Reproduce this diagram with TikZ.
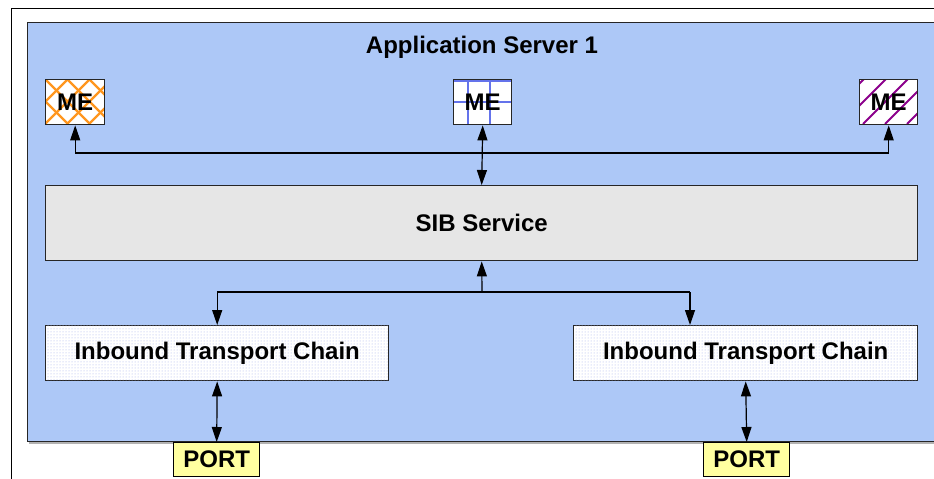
\documentclass[tikz,border=0pt]{standalone}
\usepackage{fontspec}
\setmainfont{Liberation Sans}
\usetikzlibrary{arrows.meta,patterns}
\definecolor{serverblue}{RGB}{173,200,247}
\definecolor{sibgray}{RGB}{230,230,230}
\definecolor{portyellow}{RGB}{255,255,160}
\definecolor{meorange}{RGB}{255,150,30}
\definecolor{meblue}{RGB}{100,115,235}
\definecolor{mepurple}{RGB}{140,0,140}
\definecolor{dotblue}{RGB}{160,175,235}
\begin{document}
\begin{tikzpicture}[x=1pt,y=-1pt,
  lbl/.style={font=\fontsize{24}{28}\selectfont\bfseries},
  box/.style={draw=black!85,line width=1.4pt,inner sep=0pt,anchor=north west,lbl},
  conn/.style={line width=1.2pt,draw=black},
  tip/.style={-{Triangle[length=15pt,width=10pt]}},
  dtip/.style={{Triangle[length=15pt,width=10pt]}-{Triangle[length=15pt,width=10pt]}}]
\useasboundingbox (0,0) rectangle (934,479);
\fill[white] (0,0) rectangle (934,479);
% outer frame
\draw[line width=1pt] (11,479) -- (11,8) -- (940,8);
% server box with shadow
\fill[black!30] (29,24) rectangle (950,443.5);
\node[box, fill=serverblue, minimum width=930pt, minimum height=419pt] (server) at (27,22) {};
\node[lbl] (title) at (482,47) {Application Server 1};
% ME 1 (orange crosshatch)
\fill[white] (45,79) rectangle (104,124);
\begin{scope}
  \clip (45,79) rectangle (104,124);
  \foreach \i in {-66,-44,...,66} {
    \draw[meorange,line width=2.4pt] (45+\i,79) -- ++(45,45);
    \draw[meorange,line width=2.4pt] (45+\i,124) -- ++(45,-45);
  }
\end{scope}
\node[box, minimum width=59pt, minimum height=45pt] (me1) at (45,79) {ME};
% ME 2 (blue grid)
\fill[white] (453,79) rectangle (511,124);
\begin{scope}
  \clip (453,79) rectangle (511,124);
  \draw[meblue,line width=1.6pt] (453,81) -- (511,81) (453,102) -- (511,102)
    (468,79) -- (468,124) (490,79) -- (490,124);
\end{scope}
\node[box, minimum width=58pt, minimum height=45pt] (me2) at (453,79) {ME};
% ME 3 (purple diagonal stripes)
\fill[white] (859,79) rectangle (917,124);
\begin{scope}
  \clip (859,79) rectangle (917,124);
  \foreach \i in {-40,-18,...,90} {
    \draw[mepurple,line width=1.8pt] (859+\i,124) -- ++(45,-45);
  }
\end{scope}
\node[box, minimum width=58pt, minimum height=45pt] (me3) at (859,79) {ME};
% SIB service
\node[box, fill=sibgray, minimum width=872pt, minimum height=75pt] (sib) at (45,185) {SIB Service};
% Inbound transport chains
\node[box, fill=white, postaction={pattern=dots, pattern color=dotblue},
  minimum width=343pt, minimum height=55pt] (itc1) at (45,325) {Inbound Transport Chain};
\node[box, fill=white, postaction={pattern=dots, pattern color=dotblue},
  minimum width=344pt, minimum height=55pt] (itc2) at (573,325) {Inbound Transport Chain};
% ports
\node[box, draw=black, fill=portyellow, minimum width=86pt, minimum height=34pt] (port1) at (173,442) {PORT};
\node[box, draw=black, fill=portyellow, minimum width=86pt, minimum height=34pt] (port2) at (703,442) {PORT};
% connectors top
\coordinate (bus) at (482,153);
\draw[conn] (me1.south |- bus) -- (me3.south |- bus);
\draw[conn,tip] (me1.south |- bus) -- (me1.south);
\draw[conn,tip] (me3.south |- bus) -- (me3.south);
\draw[conn,dtip] (me2.south) -- (sib.north);
% connectors bottom
\coordinate (hub) at (482,292);
\coordinate (tapR) at (690,292);
\coordinate (tapL) at (itc1.north |- hub);
\draw[conn,tip] (hub) -- (sib.south);
\draw[conn] (tapL) -- (tapR);
\draw[conn,tip] (tapL) -- (itc1.north);
\draw[conn,tip] (tapR) -- (tapR |- itc2.north);
\draw[conn,dtip] (itc1.south) -- (port1.north);
\draw[conn,dtip] (itc2.south) -- (port2.north);
\end{tikzpicture}
\end{document}
